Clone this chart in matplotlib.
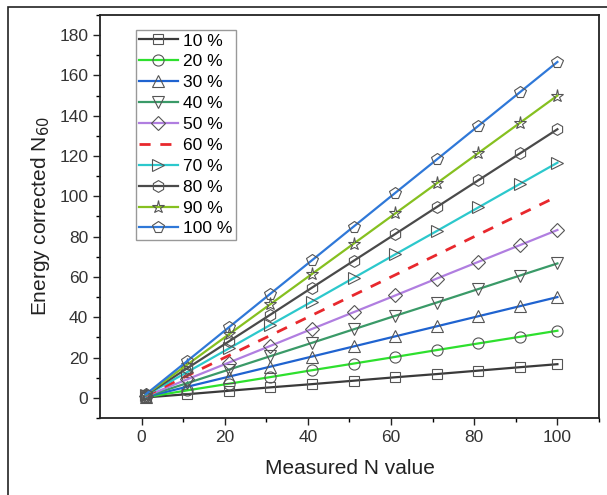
from matplotlib import pyplot as plt
from matplotlib.patches import Rectangle

plt.rcParams['font.family'] = ['Liberation Sans', 'DejaVu Sans']

# Measured N values (x axis)
n_measured = [1, 11, 21, 31, 41, 51, 61, 71, 81, 91, 100]

# Energy corrected N60, one list per energy ratio
n60_10 = [0.2, 1.8, 3.5, 5.2, 6.8, 8.5, 10.2, 11.8, 13.5, 15.2, 16.7]
n60_20 = [0.3, 3.7, 7.0, 10.3, 13.7, 17.0, 20.3, 23.7, 27.0, 30.3, 33.3]
n60_30 = [0.5, 5.5, 10.5, 15.5, 20.5, 25.5, 30.5, 35.5, 40.5, 45.5, 50.0]
n60_40 = [0.7, 7.3, 14.0, 20.7, 27.3, 34.0, 40.7, 47.3, 54.0, 60.7, 66.7]
n60_50 = [0.8, 9.2, 17.5, 25.8, 34.2, 42.5, 50.8, 59.2, 67.5, 75.8, 83.3]
n60_60 = [1.0, 11.0, 21.0, 31.0, 41.0, 51.0, 61.0, 71.0, 81.0, 91.0, 100.0]
n60_70 = [1.2, 12.8, 24.5, 36.2, 47.8, 59.5, 71.2, 82.8, 94.5, 106.2, 116.7]
n60_80 = [1.3, 14.7, 28.0, 41.3, 54.7, 68.0, 81.3, 94.7, 108.0, 121.3, 133.3]
n60_90 = [1.5, 16.5, 31.5, 46.5, 61.5, 76.5, 91.5, 106.5, 121.5, 136.5, 150.0]
n60_100 = [1.7, 18.3, 35.0, 51.7, 68.3, 85.0, 101.7, 118.3, 135.0, 151.7, 166.7]

labels = ["10 %", "20 %", "30 %", "40 %", "50 %", "60 %", "70 %", "80 %", "90 %", "100 %"]
series = [n60_10, n60_20, n60_30, n60_40, n60_50, n60_60, n60_70, n60_80, n60_90, n60_100]

# Styling per series (colour, marker)
colors = ["#3a3a3a", "#2ee02e", "#1f63d0", "#3a9a68", "#b07ee0",
          "#e8282d", "#2cc8cc", "#4a4a4a", "#86c020", "#2f78d8"]
markers = ["s", "o", "^", "v", "D", None, ">", "h", "*", "p"]
msizes = [7, 8, 8, 8, 7, 0, 8, 8.5, 9.5, 8.5]

fig = plt.figure(figsize=(6.07, 4.95), dpi=100)
ax = fig.add_axes([0.1647, 0.1556, 0.8221, 0.8141])

for ys, lab, col, mk, ms in zip(series, labels, colors, markers, msizes):
    if mk is None:
        ax.plot(n_measured, ys, color=col, lw=2, ls=(0, (4, 3.5)), label=lab)
    else:
        ax.plot(n_measured, ys, color=col, lw=1.6, marker=mk, ms=ms,
                mfc="none", mec="#555555", mew=0.8, label=lab)

ax.set_xlim(-10, 110)
ax.set_ylim(-10, 190)
ax.set_xticks(range(0, 101, 20))
ax.set_yticks(range(0, 181, 20))
ax.set_xticks(range(10, 111, 20), minor=True)
ax.set_yticks(range(-10, 191, 20), minor=True)
ax.tick_params(which="major", direction="out", length=5, width=1, labelsize=12.5,
               colors="#222222", labelcolor="#333333")
ax.tick_params(which="minor", direction="out", length=3, width=1)
for sp in ax.spines.values():
    sp.set_linewidth(1.3)
    sp.set_color("#222222")

ax.set_xlabel("Measured N value", fontsize=15, labelpad=10, color="#222222")
ax.set_ylabel("Energy corrected N$_{60}$", fontsize=15, labelpad=5, color="#222222")

ax.legend(loc="upper left", bbox_to_anchor=(0.072, 0.963), borderaxespad=0,
          fontsize=12.5, handlelength=2.2, labelspacing=0.33, fancybox=False,
          edgecolor="#999999", framealpha=1, borderpad=0.2, handletextpad=0.3)

# Outer frame around the figure (cropped at right and bottom)
fig.patches.append(Rectangle((0.013, -0.1), 1.2, 0.1 + 0.9859, transform=fig.transFigure,
                             fill=False, edgecolor="#222222", lw=1.2, clip_on=False))

fig.savefig("out.png", dpi=100)
